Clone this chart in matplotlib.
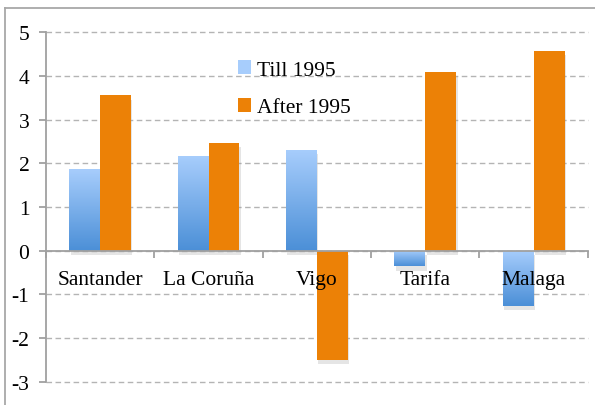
import numpy as np
import matplotlib
matplotlib.use('Agg')
import matplotlib.pyplot as plt
import matplotlib.patheffects as pe
from matplotlib.colors import LinearSegmentedColormap
from matplotlib.patches import Patch

ports = ['Santander', 'La Coruña', 'Vigo', 'Tarifa', 'Malaga']
till_1995 = [1.86, 2.16, 2.30, -0.36, -1.27]
after_1995 = [3.55, 2.47, -2.49, 4.09, 4.57]
yticks = [-3, -2, -1, 0, 1, 2, 3, 4, 5]

ORANGE = '#ec8106'
BLUE_TOP = '#a7cdfc'
BLUE_BOT = '#4b8fd7'
GRID = '#b4b4b4'
AXIS = '#a0a0a0'

plt.rcParams['font.family'] = 'Liberation Serif'
fig = plt.figure(figsize=(5.95, 4.06), dpi=100)
ax = fig.add_axes([0.0773, 0.0567, 0.9107, 0.862])

# frame around the chart area (right/bottom edges fall outside the image)
fig.add_artist(plt.Line2D([5/595, 5/595], [0, 1 - 9/406], transform=fig.transFigure, color='#a8a8a8', lw=1.3))
fig.add_artist(plt.Line2D([5/595, 1], [1 - 9/406, 1 - 9/406], transform=fig.transFigure, color='#a8a8a8', lw=1.3))

x = np.arange(len(ports))
w = 0.285
shadow = [pe.SimplePatchShadow(offset=(1, -3), shadow_rgbFace='#999999', alpha=0.25), pe.Normal()]

b1 = ax.bar(x - w/2, till_1995, w, color=BLUE_BOT, zorder=3, path_effects=shadow)
b2 = ax.bar(x + w/2, after_1995, w, color=ORANGE, zorder=3, path_effects=shadow)

# vertical gradient on the blue bars: light at the top, darker at the bottom
cmap = LinearSegmentedColormap.from_list('blues', [BLUE_BOT, BLUE_TOP])
grad = np.linspace(0, 1, 256).reshape(-1, 1)
for r in b1:
    x0, y0 = r.get_x(), r.get_y()
    y_lo, y_hi = sorted([y0, y0 + r.get_height()])
    im = ax.imshow(grad, cmap=cmap, aspect='auto', origin='lower',
                   extent=[x0, x0 + r.get_width(), y_lo, y_hi], zorder=3.5)
    im.set_clip_path(r)

ax.set_xlim(-0.5, len(ports) - 0.5)
ax.set_ylim(-3, 5)
ax.set_yticks(yticks)
ax.set_yticklabels([str(t) for t in yticks], fontsize=15.5)
ax.yaxis.grid(True, ls=(0, (4, 2.5)), color=GRID, lw=1, zorder=0)
ax.set_axisbelow(True)
for gl in ax.get_ygridlines():
    gl.set_clip_on(False)

for s in ['top', 'right']:
    ax.spines[s].set_visible(False)
ax.spines['left'].set_color(AXIS)
ax.spines['left'].set_linewidth(1.3)
ax.spines['bottom'].set_position(('data', 0))
ax.spines['bottom'].set_color(AXIS)
ax.spines['bottom'].set_linewidth(1.3)
ax.spines['bottom'].set_zorder(4)

ax.set_xticks(x)
ax.set_xticklabels(ports, fontsize=15.5)
ax.set_xticks(np.arange(-0.5, len(ports)), minor=True)
ax.tick_params(axis='x', which='major', length=0, pad=14)
ax.tick_params(axis='x', which='minor', length=5, color=AXIS, width=1.3, direction='out')
ax.tick_params(axis='y', length=5, color=AXIS, width=1.3, pad=7)
# category names sit on top of the bars
ax.xaxis.set_zorder(5)

handles = [Patch(facecolor=BLUE_TOP, edgecolor='none'), Patch(facecolor=ORANGE, edgecolor='none')]
ax.legend(handles, ['Till 1995', 'After 1995'], loc='upper left', bbox_to_anchor=(0.318, 0.975),
          frameon=False, fontsize=15.5, handlelength=0.6, handleheight=0.6,
          handletextpad=0.3, labelspacing=0.85)

fig.savefig('out.png', dpi=100)
